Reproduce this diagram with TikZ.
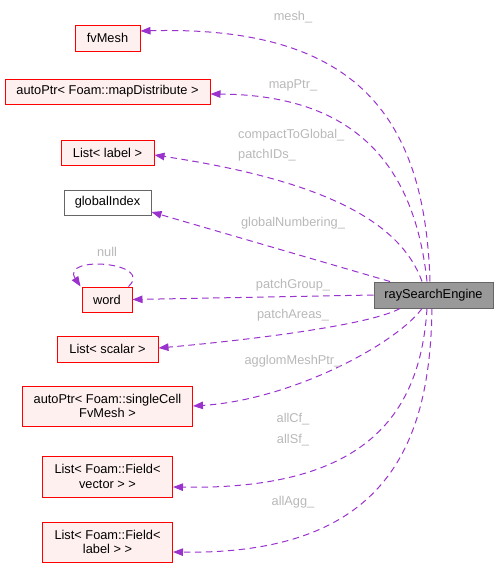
\documentclass[tikz,border=0pt]{standalone}
\usepackage{fontspec}
\setmainfont{Liberation Sans}
\usetikzlibrary{arrows.meta}
\definecolor{edgec}{HTML}{9A32CD}
\definecolor{labc}{HTML}{B8B8B8}
\definecolor{redb}{HTML}{FF0000}
\definecolor{redf}{HTML}{FFF0F0}
\definecolor{grayb}{HTML}{666666}
\definecolor{grayf}{HTML}{999999}
\tikzset{
  every node/.style={font=\fontsize{12.8}{14.5}\selectfont},
  member/.style={draw=redb, fill=redf, line width=1pt, inner sep=0pt, align=center},
  plainbox/.style={draw=grayb, fill=white, line width=1pt, inner sep=0pt, align=center},
  mainbox/.style={draw=grayb, fill=grayf, line width=1pt, inner sep=0pt, align=center},
  dep/.style={draw=edgec, line width=1pt, dash pattern=on 6.5pt off 4.5pt, -{Triangle[length=10pt,width=7.5pt]}},
  elabel/.style={text=labc, inner sep=0pt}
}
\begin{document}
\begin{tikzpicture}[x=1pt,y=-1pt]
\useasboundingbox (0,0) rectangle (498,568);
% nodes
\node[member, minimum width=65pt, minimum height=26pt] (fvm) at (107.5,38) {fvMesh};
\node[member, minimum width=205pt, minimum height=25pt] (map) at (107.5,91.5) {autoPtr< Foam::mapDistribute >};
\node[member, minimum width=93pt, minimum height=25pt] (lbl) at (107.5,152.5) {List< label >};
\node[plainbox, minimum width=87pt, minimum height=25pt] (gi) at (107.5,202.5) {globalIndex};
\node[member, minimum width=50pt, minimum height=25pt] (word) at (107,299.5) {word};
\node[member, minimum width=101pt, minimum height=26pt] (sca) at (107.5,349) {List< scalar >};
\node[member, minimum width=170pt, minimum height=40pt] (scm) at (107.5,406) {autoPtr< Foam::singleCell\\FvMesh >};
\node[member, minimum width=130pt, minimum height=41pt] (fvec) at (107.5,476.5) {List< Foam::Field<\\vector > >};
\node[member, minimum width=130pt, minimum height=40pt] (flab) at (107.5,542) {List< Foam::Field<\\label > >};
\node[mainbox, minimum width=119pt, minimum height=26pt] (eng) at (433.5,295) {raySearchEngine};
% edges
\draw[dep] ([xshift=-3.5pt]eng.north) .. controls (425,120) and (360,25) .. (fvm.east |- 0,31);
\draw[dep] ([xshift=-6.5pt]eng.north) .. controls (415,170) and (360,95) .. (map.east |- 0,94);
\draw[dep] ([xshift=-11.5pt]eng.north) .. controls (400,220) and (320,180) .. (lbl.east |- 0,155);
\draw[dep] ([xshift=-43.5pt]eng.north) -- (gi.east |- 0,212);
\draw[dep] (eng.west) -- (word.east);
\draw[dep] ([xshift=-33.5pt]eng.south) .. controls (370,325) and (250,340) .. (sca.east |- 0,348);
\draw[dep] ([xshift=-11.5pt]eng.south) .. controls (395,345) and (290,400) .. (scm.east |- 0,406);
\draw[dep] ([xshift=-6.5pt]eng.south) .. controls (420,420) and (360,490) .. (fvec.east |- 0,487);
\draw[dep] ([xshift=-1.5pt]eng.south) .. controls (430,440) and (390,555) .. (flab.east |- 0,552);
\draw[dep] ([xshift=-4pt]word.north east) .. controls (155,262) and (60,255) .. ([xshift=-1pt]word.north west);
% labels
\node[elabel] (l1) at (293,17) {mesh\_};
\node[elabel] (l2) at (293,85) {mapPtr\_};
\node[elabel, anchor=west] (l3) at (238,135) {compactToGlobal\_};
\node[elabel, anchor=west] (l4) at (238,155) {patchIDs\_};
\node[elabel] (l5) at (293,223) {globalNumbering\_};
\node[elabel] (l6) at (107,252) {null};
\node[elabel] (l7) at (293,285) {patchGroup\_};
\node[elabel] (l8) at (293,315) {patchAreas\_};
\node[elabel] (l9) at (293,361) {agglomMeshPtr\_};
\node[elabel] (l10) at (293,419) {allCf\_};
\node[elabel] (l11) at (293,440) {allSf\_};
\node[elabel] (l12) at (293,502) {allAgg\_};
\end{tikzpicture}
\end{document}
